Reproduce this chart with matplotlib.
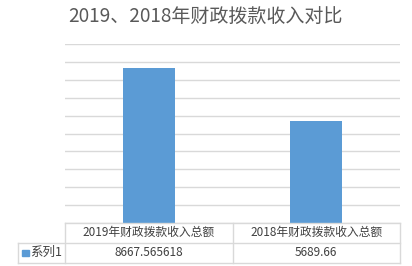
import matplotlib.pyplot as plt
from matplotlib.lines import Line2D
from matplotlib.patches import Rectangle

plt.rcParams['font.family'] = ['Noto Sans CJK SC', 'DejaVu Sans']

# data
title = "2019、2018年财政拨款收入对比"
categories = ["2019年财政拨款收入总额", "2018年财政拨款收入总额"]
values = [8667.565618, 5689.66]
value_labels = ["8667.565618", "5689.66"]
series_name = "系列1"
y_max = 10000
y_step = 1000

W, H = 412, 266
bar_color = "#5b9bd5"
grid_color = "#d9d9d9"
text_color = "#404040"

fig = plt.figure(figsize=(W / 100, H / 100), dpi=100)

def fx(px):
    return px / W

def fy(py):
    return 1 - py / H

# plot area in pixels
left, right, top, bottom = 65, 400, 44.3, 222.8
ax = fig.add_axes([fx(left), fy(bottom), fx(right - left), (bottom - top) / H])
ax.bar(range(len(values)), values, width=0.31, color=bar_color, zorder=3)
ax.set_xlim(-0.5, len(values) - 0.5)
ax.set_ylim(0, y_max)
ax.set_yticks(range(0, y_max + 1, y_step))
ax.yaxis.grid(True, color=grid_color, linewidth=1.0)
ax.set_axisbelow(True)
ax.tick_params(left=False, bottom=False, labelleft=False, labelbottom=False)
for s in ax.spines.values():
    s.set_visible(False)

fig.text(fx(205), fy(17), title, ha="center", va="center", fontsize=13.7,
         color="#595959", fontweight="light")

# data table below the plot
t_top, t_mid, t_bot = 222.8, 242.7, 262.7
t_left = 18
col_edges = [left, (left + right) / 2, right]

def hline(y, x0, x1):
    fig.add_artist(Line2D([fx(x0), fx(x1)], [fy(y), fy(y)], color=grid_color, lw=1.0))

def vline(x, y0, y1):
    fig.add_artist(Line2D([fx(x), fx(x)], [fy(y0), fy(y1)], color=grid_color, lw=1.0))

hline(t_top, left, right)
hline(t_mid, t_left, right)
hline(t_bot, t_left, right)
vline(t_left, t_mid, t_bot)
for x in col_edges:
    vline(x, t_top, t_bot)

for i, (cat, lab) in enumerate(zip(categories, value_labels)):
    cx = (col_edges[i] + col_edges[i + 1]) / 2
    fig.text(fx(cx), fy((t_top + t_mid) / 2), cat, ha="center", va="center",
             fontsize=8.5, color=text_color)
    fig.text(fx(cx), fy((t_mid + t_bot) / 2), lab, ha="center", va="center",
             fontsize=8.5, color=text_color)

# series key in row header
fig.add_artist(Rectangle((fx(22), fy(256)), fx(6.5), 6.5 / H, color=bar_color))
fig.text(fx(30.5), fy((t_mid + t_bot) / 2), series_name, ha="left", va="center",
         fontsize=9, color=text_color)

fig.savefig("out.png", dpi=100)
